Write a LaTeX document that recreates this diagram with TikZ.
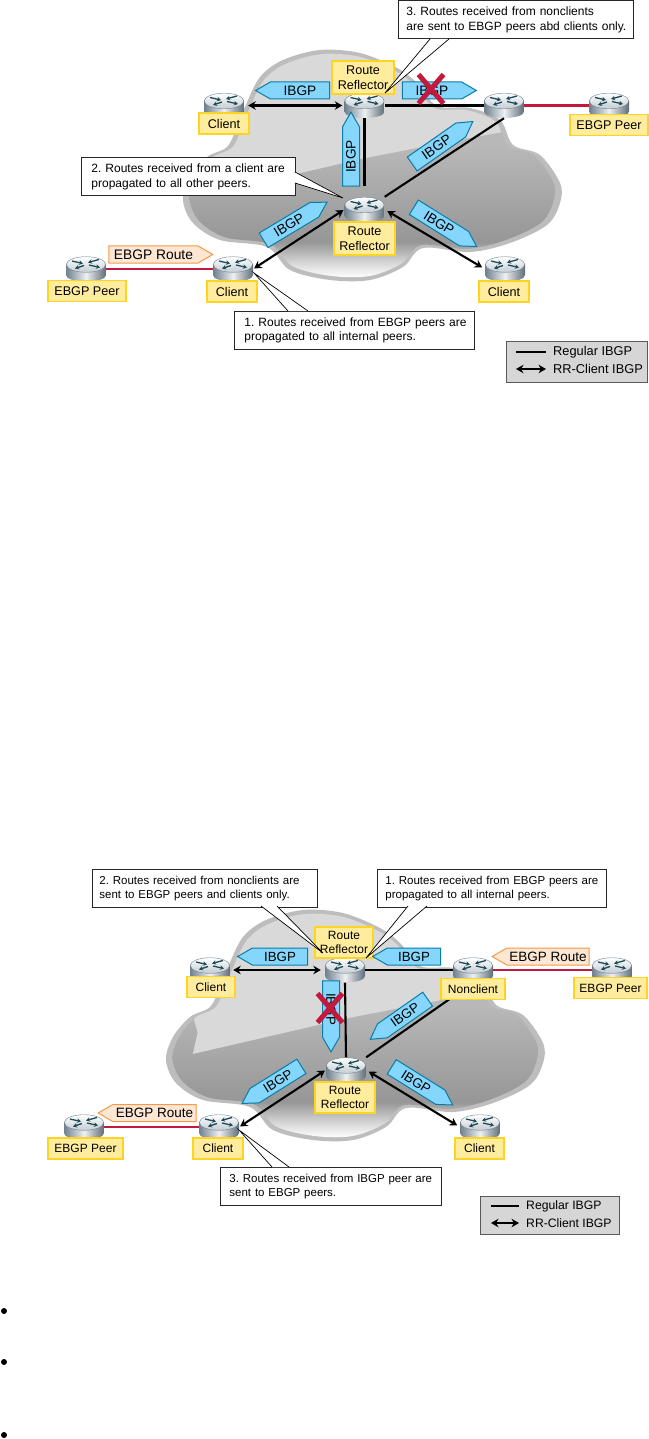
\documentclass[tikz,border=0pt]{standalone}
\usepackage{fontspec}
\setmainfont{Liberation Sans}
\usepackage{xcolor}
\usepackage{tikz}
\usetikzlibrary{shapes.symbols, shapes.misc, arrows.meta, calc}
\definecolor{ibgpfill}{HTML}{85D6FC}
\definecolor{ibgpedge}{HTML}{0A7CA6}
\definecolor{tagfill}{HTML}{FFEC9C}
\definecolor{tagedge}{HTML}{FFD324}
\definecolor{ebgpfill}{HTML}{FDE6D2}
\definecolor{ebgpedge}{HTML}{F59A4C}
\definecolor{peerred}{HTML}{C4183C}
\definecolor{cloudrim}{HTML}{BDBDBD}
\definecolor{cloudlight}{HTML}{D9D9D9}
\definecolor{routertop}{HTML}{C3CDD4}
\definecolor{routeredge}{HTML}{6F808E}
\definecolor{routermark}{HTML}{1F4A55}
\pgfdeclareverticalshading{cloudfade}{100bp}{color(0bp)=(white); color(25bp)=(white);
  color(28bp)=(black!14); color(33bp)=(black!41); color(54bp)=(black!28); color(100bp)=(black!28)}
\tikzset{
  router/.style={minimum width=40pt, minimum height=25pt, inner sep=0pt, path picture={
    \begin{scope}[shift={(path picture bounding box.center)}]
      \shade[left color=routeredge, right color=routeredge!85!black, middle color=white!88!routeredge]
        (-20,-5) -- (-20,6) .. controls (-20,10) and (-11,12.5) .. (0,12.5)
        .. controls (11,12.5) and (20,10) .. (20,6) -- (20,-5) -- cycle;
      \shade[top color=white, bottom color=routertop, draw=routeredge, line width=0.4pt]
        (0,-4.5) ellipse [x radius=19.7, y radius=7.8];
      \foreach \xa/\ya/\xb/\yb in {-14/-8/-3/-5.5, 13/-9.5/2/-6.5, -2/-3.5/-11/-0.5, 3/-4/14/-1.5}
        \draw[routermark, line width=1.3pt, -{Stealth[length=4pt,width=4.5pt]}] (\xa,\ya) -- (\xb,\yb);
    \end{scope}}},
  tag/.style={draw=tagedge, fill=tagfill, line width=1.2pt, align=center, inner sep=0pt,
    minimum height=21pt, font=\fontsize{12.6}{14.5}\selectfont},
  ibgp/.style={signal, signal pointer angle=60, signal from=nowhere, draw=ibgpedge, fill=ibgpfill,
    line width=1pt, inner sep=0pt, minimum height=17pt, minimum width=74pt, font=\fontsize{13.7}{15}\selectfont},
  ebgp/.style={ibgp, draw=ebgpedge, fill=ebgpfill, minimum width=104pt, font=\fontsize{13.8}{15}\selectfont},
  callout/.style={draw=black!85, fill=white, line width=0.9pt, align=left, anchor=north west, inner sep=0pt,
    minimum height=38pt, font=\fontsize{12}{14.5}\selectfont\frenchspacing},
  calltail/.style={draw=black, fill=white, line width=0.7pt},
  regline/.style={line width=2.1pt},
  rrline/.style={regline, {Stealth[length=7.5pt,width=8.5pt]}-{Stealth[length=7.5pt,width=8.5pt]}},
  redline/.style={peerred, line width=2.6pt},
  redx/.style={cross out, draw=peerred, line width=5pt, inner sep=0pt, minimum width=20pt, minimum height=24pt},
  legbox/.style={draw=black!65, fill=black!16, line width=0.9pt, inner sep=0pt, anchor=north west},
  legtext/.style={anchor=west, inner sep=0pt, font=\fontsize{12.8}{14}\selectfont},
  dot/.style={circle, fill=black, inner sep=0pt, minimum size=6pt},
}
\newcommand{\cloudoutline}{plot[smooth cycle, tension=0.55] coordinates {(245,107) (260,77) (283,60) (320,50)
  (360,53) (397,68) (417,83) (437,106) (470,108) (500,120) (513,145) (540,155) (560,183) (560,203)
  (547,225) (510,243) (470,252) (423,248) (403,267) (370,280) (330,280) (290,270) (267,247) (220,240)
  (193,223) (183,200) (190,177) (207,157) (227,147) (237,127)}}
\newcommand{\drawcloud}[2]{
  \begin{scope}[shift={(#1,#2)}]
    \fill[cloudrim] \cloudoutline;
    \begin{scope}[scale around={0.965:(370,165)}]
      \shade[shading=cloudfade] \cloudoutline;
      \clip \cloudoutline;
      \fill[cloudlight] (204,195) -- (364,158) -- (467,138) -- (570,120) -- (570,30) -- (170,30) -- (209,173) -- cycle;
    \end{scope}
  \end{scope}}

\begin{document}
\begin{tikzpicture}[x=1pt, y=-1pt]
  \useasboundingbox (0,0) rectangle (648,1439);
  \fill[white] (0,0) rectangle (648,1439);

  % upper network
  \drawcloud{0}{0}
  \node[router] (rta) at (224,105.5) {};
  \node[router] (rtb) at (364.5,105.5) {};
  \node[router] (rtc) at (504,105.5) {};
  \node[router] (rtd) at (609,105.5) {};
  \node[router] (rte) at (364.5,209.5) {};
  \node[router] (rtf) at (233,269) {};
  \node[router] (rtg) at (505,269) {};
  \node[router] (rth) at (86,269) {};
  \draw[rrline, shorten <=4pt, shorten >=2pt] (rta.east) -- (rtb.west);
  \draw[regline] (rtb.east) -- (rtc.west);
  \draw[redline] (rtc.east) -- (rtd.west);
  \draw[regline, shorten >=11pt] (rtb.south) -- (rte.north);
  \draw[regline] (rte.north east) -- (rtc.south);
  \draw[rrline, shorten <=1pt, shorten >=1pt] (rte.west) -- (rtf.east);
  \draw[rrline, shorten <=3pt, shorten >=3pt] (rte.east) -- (rtg.west);
  \draw[redline] (rth.east) -- (rtf.west);

  \node[tag, minimum width=50pt] (ta) at (224,123.5) {Client};
  \node[tag, minimum width=62pt, minimum height=33pt] (tb) at (363,77.5) {Route\\Reflector};
  \node[tag, minimum width=78pt] (td) at (609,125) {EBGP Peer};
  \node[tag, minimum width=61pt, minimum height=33pt] (te) at (364.5,238.5) {Route\\Reflector};
  \node[tag, minimum width=50pt] (tf) at (232,291.5) {Client};
  \node[tag, minimum width=50pt] (tg) at (504,291.5) {Client};
  \node[tag, minimum width=78pt] (th) at (87,291) {EBGP Peer};

  \node[ibgp, signal to=west] (aa) at (300,90.5) {IBGP};
  \node[ibgp, signal to=east] (ab) at (432,90.5) {IBGP};
  \node[redx] (xa) at (431,89) {};
  \node[ibgp, signal to=east, rotate=90] (ac) at (351,156.5) {IBGP};
  \node[ibgp, signal to=east, rotate=35] (ad) at (436.5,147) {IBGP};
  \node[ibgp, signal to=east, rotate=31] (ae) at (289,225) {IBGP};
  \node[ibgp, signal to=east, rotate=-32] (af) at (439,223) {IBGP};
  \node[ebgp, signal to=east] (ag) at (153.5,254.5) {EBGP Route};

  \node[callout, text width=235pt] (ca) at (398,0.5) {\hspace*{8pt}3. Routes received from nonclients\\\hspace*{8pt}are sent to EBGP peers abd clients only.};
  \coordinate (cat) at (385,93);
  \draw[calltail] (430,39) -- (cat) -- (449,39);
  \node[callout, text width=214pt] (cb) at (81,157.5) {\hspace*{10pt}2. Routes received from a client are\\\hspace*{10pt}propagated to all other peers.};
  \coordinate (cbt) at (343,198);
  \draw[calltail] (295,172) -- (cbt) -- (295,183);
  \node[callout, text width=240pt] (cc) at (234,311) {\hspace*{10pt}1. Routes received from EBGP peers are\\\hspace*{10pt}propagated to all internal peers.};
  \coordinate (cct) at (254,273);
  \draw[calltail] (288,311) -- (cct) -- (308,311);

  \node[legbox, minimum width=141pt, minimum height=41pt] (la) at (506,341) {};
  \node[legtext] (lb) at (553,352) {Regular IBGP};
  \node[legtext] (lc) at (553,369) {RR-Client IBGP};
  \coordinate (ld) at (516,352);
  \coordinate (le) at (516,369);
  \draw[regline, shorten >=7pt] (ld) -- (lb.west);
  \draw[rrline, shorten >=7pt] (le) -- (lc.west);

  % lower network
  \drawcloud{-17}{860}
  \begin{scope}[tag/.append style={font=\fontsize{12}{14}\selectfont},
    ibgp/.append style={font=\fontsize{13.3}{15}\selectfont, minimum width=70pt},
    ebgp/.append style={font=\fontsize{13.5}{15}\selectfont},
    callout/.append style={font=\fontsize{11.5}{14.5}\selectfont\frenchspacing},
    legtext/.append style={font=\fontsize{12.2}{14}\selectfont}]
  \node[router] (rba) at (210,970) {};
  \node[router] (rbb) at (345,970) {};
  \node[router] (rbc) at (473,970) {};
  \node[router] (rbd) at (612,970) {};
  \node[router] (rbe) at (346,1070) {};
  \node[router] (rbf) at (219,1127) {};
  \node[router] (rbg) at (480,1127) {};
  \node[router] (rbh) at (84,1127) {};
  \draw[rrline, shorten <=3pt, shorten >=4pt] (rba.east) -- (rbb.west);
  \draw[regline] (rbb.east) -- (rbc.west);
  \draw[redline] (rbc.east) -- (rbd.west);
  \draw[regline] (rbb.south) -- (rbe.north);
  \draw[regline] (rbe.north east) -- (rbc.south);
  \draw[rrline, shorten <=1pt, shorten >=1pt] (rbe.west) -- (rbf.east);
  \draw[rrline, shorten <=3pt, shorten >=3pt] (rbe.east) -- (rbg.west);
  \draw[redline] (rbh.east) -- (rbf.west);

  \node[tag, minimum width=48pt] (tba) at (211,987) {Client};
  \node[tag, minimum width=58pt, minimum height=31pt] (tbb) at (344,942.5) {Route\\Reflector};
  \node[tag, minimum width=64pt] (tbc) at (473,989) {Nonclient};
  \node[tag, minimum width=73pt] (tbd) at (610.5,988) {EBGP Peer};
  \node[tag, minimum width=60pt, minimum height=31pt] (tbe) at (345,1097.5) {Route\\Reflector};
  \node[tag, minimum width=50pt] (tbf) at (218,1148.5) {Client};
  \node[tag, minimum width=49pt] (tbg) at (479.5,1148.5) {Client};
  \node[tag, minimum width=75pt] (tbh) at (85.5,1148.5) {EBGP Peer};

  \node[ibgp, signal to=west] (ba) at (280,956.5) {IBGP};
  \node[ibgp, signal to=west, minimum width=68pt] (bb) at (414,956.5) {IBGP};
  \node[ibgp, signal to=east, rotate=-90, minimum width=71pt] (bc) at (331,1009) {IBGP};
  \node[redx] (xb) at (330,1008) {};
  \node[ibgp, signal to=west, rotate=35] (bd) at (405,1015) {IBGP};
  \node[ibgp, signal to=west, rotate=32] (be) at (278,1081) {IBGP};
  \node[ibgp, signal to=east, rotate=-32, minimum width=72pt] (bf) at (416,1082) {IBGP};
  \node[ebgp, signal to=west, minimum width=97pt] (bg) at (548,956.5) {EBGP Route};
  \node[ebgp, signal to=west, minimum width=98pt] (bh) at (154.5,1113) {EBGP Route};

  \node[callout, text width=225pt] (cd) at (92,869) {\hspace*{7pt}2. Routes received from nonclients are\\\hspace*{7pt}sent to EBGP peers and clients only.};
  \coordinate (cdt) at (323,953);
  \draw[calltail] (261,906) -- (cdt) -- (277,906);
  \node[callout, text width=229pt] (ce) at (377,869) {\hspace*{8pt}1. Routes received from EBGP peers are\\\hspace*{8pt}propagated to all internal peers.};
  \coordinate (cet) at (366,958);
  \draw[calltail] (408,906) -- (cet) -- (427,906);
  \node[callout, text width=221pt] (cf) at (220,1167) {\hspace*{9pt}3. Routes received from IBGP peer are\\\hspace*{9pt}sent to EBGP peers.};
  \coordinate (cft) at (239,1130);
  \draw[calltail] (272,1167) -- (cft) -- (289,1167);

  \node[legbox, minimum width=139pt, minimum height=38pt] (lf) at (480,1196) {};
  \node[legtext] (lg) at (526,1206) {Regular IBGP};
  \node[legtext] (lh) at (526,1223) {RR-Client IBGP};
  \coordinate (li) at (491,1206);
  \coordinate (lj) at (491,1223);
  \draw[regline, shorten >=7pt] (li) -- (lg.west);
  \draw[rrline, shorten >=7pt] (lj) -- (lh.west);
  \end{scope}

  \node[dot] (da) at (4,1311) {};
  \node[dot] (db) at (4,1362) {};
  \node[dot] (dc) at (4,1435) {};
\end{tikzpicture}
\end{document}
